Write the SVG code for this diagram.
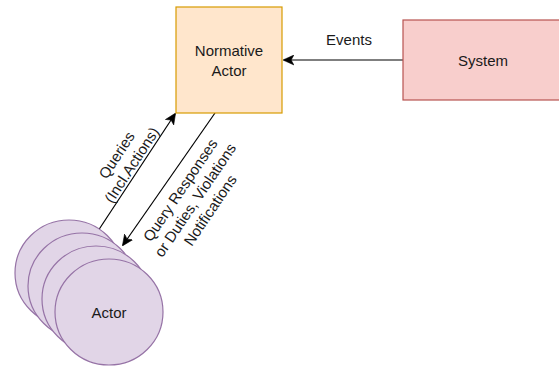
<svg xmlns="http://www.w3.org/2000/svg" width="559" height="368" viewBox="0 0 559 368">
<defs>
<marker id="arr" viewBox="0 0 10 10" refX="9" refY="5" markerWidth="11" markerHeight="11" markerUnits="userSpaceOnUse" orient="auto">
<path d="M0,0.5 L10,5 L0,9.5 L2.5,5 Z" fill="#000" stroke="#000" stroke-width="0.5"/>
</marker>
</defs>
<style>
text{font-family:"Liberation Sans",Arial,Helvetica,sans-serif;font-size:15px;fill:#1a1a1a;}
.c{text-anchor:middle;dominant-baseline:central;}
.ln{stroke:#000;stroke-width:1.2;fill:none;}
.actor{fill:#e1d5e7;stroke:#9673a6;stroke-width:1.2;}
</style>
<g id="connectors">
<line class="ln" x1="403" y1="60" x2="284" y2="60" marker-end="url(#arr)"/>
<line class="ln" x1="96" y1="234" x2="175" y2="114" marker-end="url(#arr)"/>
<line class="ln" x1="215" y1="113" x2="123" y2="245" marker-end="url(#arr)"/>
<text class="c" x="349" y="39">Events</text>
<g transform="translate(124,160) rotate(-57)">
<text class="c" x="0" y="-9">Queries</text>
<text class="c" x="0" y="9">(Incl.Actions)</text>
</g>
<g transform="translate(195,200) rotate(-56)">
<text class="c" x="0" y="-18">Query Responses</text>
<text class="c" x="0" y="0">or Duties, Violations</text>
<text class="c" x="0" y="18">Notifications</text>
</g>
</g>
<g id="normative-actor">
<rect x="176" y="7" width="106" height="106" fill="#ffe6cc" stroke="#d79b00" stroke-width="1.2"/>
<text class="c" x="229" y="50">Normative</text>
<text class="c" x="229" y="70">Actor</text>
</g>
<g id="system">
<rect x="403" y="20" width="160" height="80" fill="#f8cecc" stroke="#b85450" stroke-width="1.2"/>
<text class="c" x="483" y="60">System</text>
</g>
<g id="actor">
<ellipse class="actor" cx="69" cy="273" rx="54" ry="53"/>
<ellipse class="actor" cx="82" cy="286" rx="54" ry="53"/>
<ellipse class="actor" cx="96" cy="299" rx="54" ry="53"/>
<ellipse class="actor" cx="109" cy="312" rx="54" ry="53"/>
<text class="c" x="109" y="312">Actor</text>
</g>
</svg>
